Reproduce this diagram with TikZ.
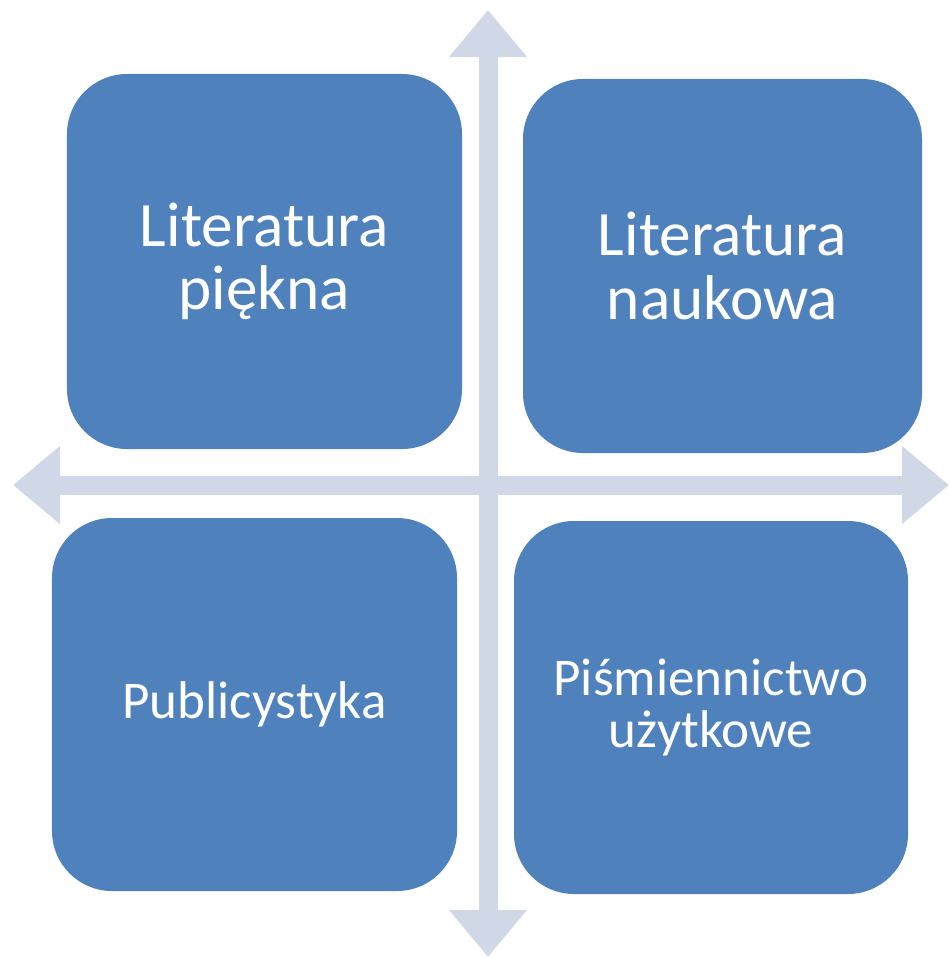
\documentclass[tikz,border=0pt]{standalone}
\usepackage{fontspec}
\setmainfont{Carlito}
\usetikzlibrary{arrows.meta}
\definecolor{boxblue}{RGB}{79,129,189}
\definecolor{axisgrey}{RGB}{208,215,231}

\begin{document}
\begin{tikzpicture}[x=0.2mm, y=-0.2mm,
  quad/.style={rectangle, rounded corners=12mm, fill=boxblue, text=white, align=center, inner sep=0pt},
  bigtext/.style={font=\fontsize{36}{36}\selectfont},
  smalltext/.style={font=\fontsize{30.2}{30}\selectfont},
  axisarrow/.style={draw=axisgrey, line width=3.8mm, {Triangle[width=15mm,length=9.4mm]}-{Triangle[width=15mm,length=9.4mm]}}]
\useasboundingbox (0,0) rectangle (949,958);
\coordinate (n) at (488,10);
\coordinate (s) at (488,957);
\coordinate (w) at (13,485);
\coordinate (e) at (949,485);
\draw[axisarrow] (n) -- (s);
\draw[axisarrow] (w) -- (e);
\node[quad, bigtext, minimum width=79mm, minimum height=75mm] (piekna) at (264.5,261.5) {Literatura\\piękna};
\node[quad, bigtext, minimum width=79.8mm, minimum height=74.8mm] (naukowa) at (722.5,266) {Literatura\\naukowa};
\node[quad, smalltext, minimum width=81mm, minimum height=74.6mm] (publ) at (254.5,704.5) {Publicystyka};
\node[quad, smalltext, minimum width=78.8mm, minimum height=74.6mm] (uzytk) at (711,707.5) {Piśmiennictwo\\użytkowe};
\end{tikzpicture}
\end{document}
